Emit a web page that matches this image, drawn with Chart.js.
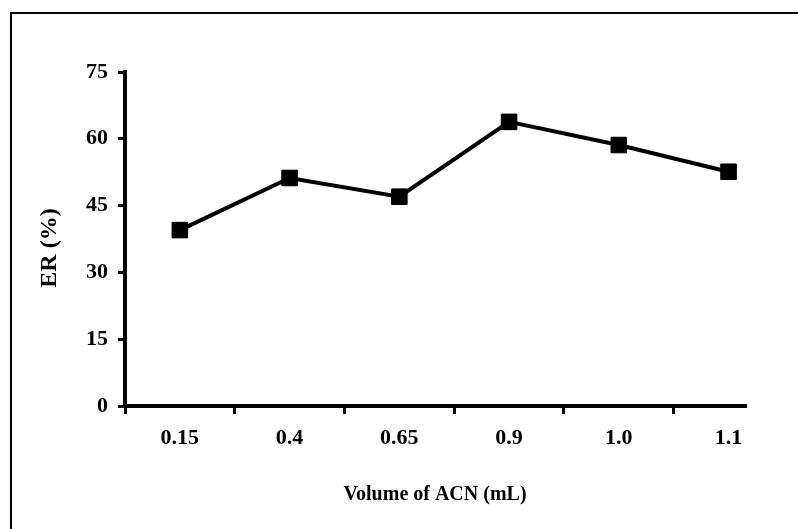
<!DOCTYPE html>
<html>
<head>
<meta charset="utf-8">
<script src="https://cdn.jsdelivr.net/npm/chart.js@4.4.1/dist/chart.umd.min.js"></script>
<style>
  html, body { margin: 0; padding: 0; background: #fff; }
  #wrap { position: relative; width: 798px; height: 529px; overflow: hidden; }
  #frame { position: absolute; left: 10px; top: 12px; width: 800px; height: 530px;
           border-left: 2px solid #000; border-top: 2px solid #000; }
  canvas { position: absolute; left: 0; top: 0; }
</style>
</head>
<body>
<div id="wrap">
  <div id="frame"></div>
  <canvas id="chart" width="798" height="529"></canvas>
</div>
<script>
// data
const volumes = ['0.15', '0.4', '0.65', '0.9', '1.0', '1.1'];
const erValues = [39.5, 51.2, 47.0, 63.8, 58.6, 52.6];
const yTicks = [0, 15, 30, 45, 60, 75];

const serif = 'Liberation Serif, Times New Roman, serif';

const ctx = document.getElementById('chart').getContext('2d');

new Chart(ctx, {
  type: 'line',
  data: {
    datasets: [{
      label: 'ER',
      data: erValues.map((v, i) => ({ x: i, y: v })),
      borderColor: '#000',
      borderWidth: 4,
      backgroundColor: '#000',
      pointStyle: 'rect',
      pointRadius: 11,
      pointBackgroundColor: '#000',
      pointBorderColor: '#000',
      pointBorderWidth: 1,
      tension: 0,
      clip: false
    }]
  },
  options: {
    responsive: false,
    animation: false,
    layout: { padding: { left: 0, right: 53, top: 72, bottom: 0 } },
    plugins: {
      legend: { display: false },
      tooltip: { enabled: false }
    },
    scales: {
      x: {
        type: 'linear',
        min: -0.5,
        max: 5.15,
        afterBuildTicks: scale => {
          scale.ticks = volumes.map((v, i) => ({ value: i }));
        },
        afterFit: scale => { scale.height = 123; },
        ticks: {
          color: '#000',
          padding: 11,
          font: { family: serif, size: 22, weight: 'bold' },
          callback: val => volumes[val]
        },
        grid: {
          display: true,
          offset: true,
          drawOnChartArea: false,
          drawTicks: true,
          tickLength: 8,
          color: '#000',
          lineWidth: 3
        },
        border: { display: true, color: '#000', width: 4 },
        title: {
          display: true,
          text: 'Volume of ACN (mL)',
          color: '#000',
          font: { family: serif, size: 20, weight: 'bold' },
          padding: { bottom: 22 }
        }
      },
      y: {
        min: 0,
        max: 75,
        afterBuildTicks: scale => {
          scale.ticks = yTicks.map(v => ({ value: v }));
        },
        afterFit: scale => { scale.width = 125; },
        ticks: {
          color: '#000',
          padding: 10,
          font: { family: serif, size: 22, weight: 'bold' }
        },
        grid: {
          display: true,
          drawOnChartArea: false,
          drawTicks: true,
          tickLength: 7,
          color: '#000',
          lineWidth: 3
        },
        border: { display: true, color: '#000', width: 4 },
        title: {
          display: true,
          text: 'ER (%)   ',
          color: '#000',
          font: { family: serif, size: 24, weight: 'bold' },
          padding: { top: 35 }
        }
      }
    }
  }
});
</script>
</body>
</html>
